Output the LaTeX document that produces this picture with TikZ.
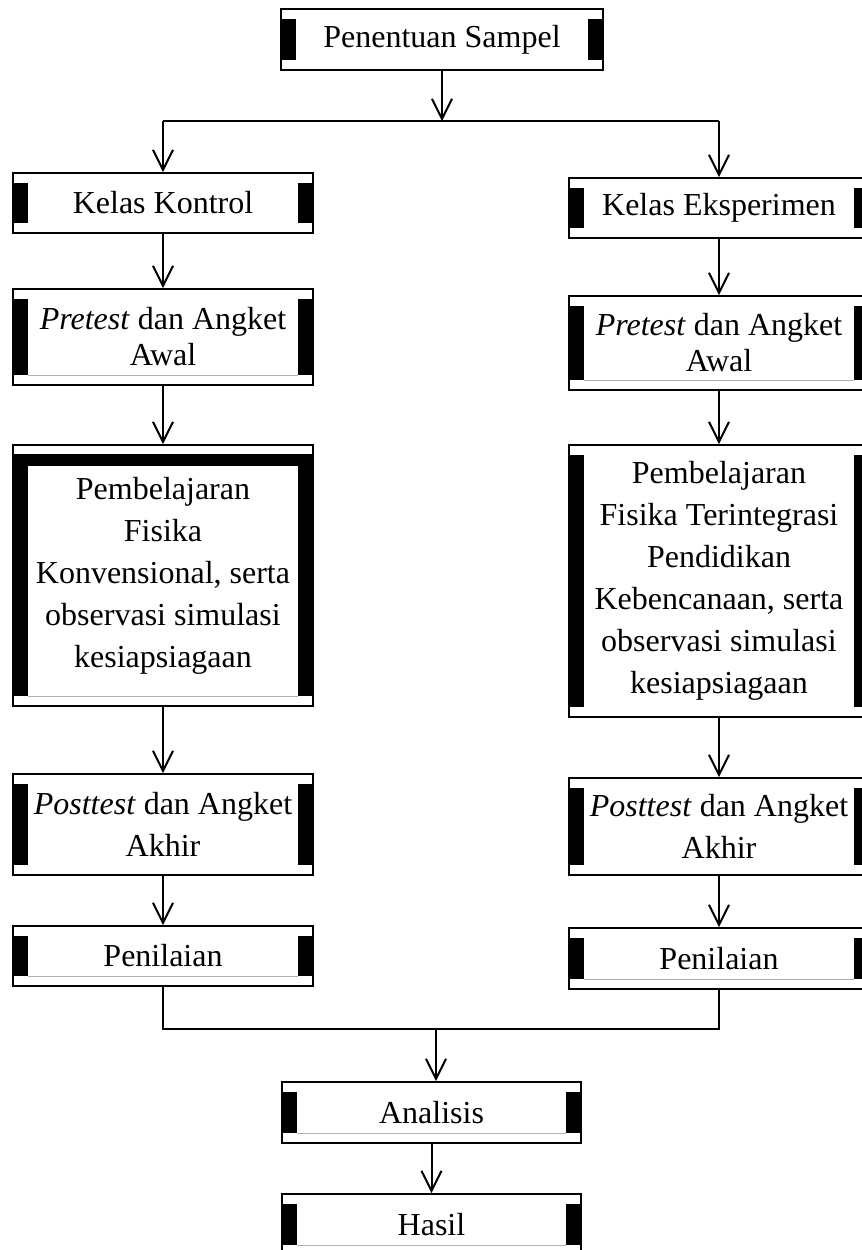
\documentclass[tikz,border=0pt]{standalone}
\usepackage{fontspec}
\setmainfont{Liberation Serif}
\usetikzlibrary{positioning,arrows.meta}

\begin{document}
\begin{tikzpicture}[x=0.5pt, y=-0.5pt,
	flowbox/.style={draw, line width=1pt, minimum width=150pt, inner sep=0pt, align=center, font=\fontsize{16pt}{21pt}\selectfont},
	tightbox/.style={flowbox, font=\fontsize{16pt}{18pt}\selectfont},
	arr/.style={-{Straight Barb[length=10pt,width=10pt]}, line width=1pt}]
	\useasboundingbox (0,0) rectangle (862,1250);

	\node[flowbox, minimum width=161pt, minimum height=30.5pt] (samp) at (442,39.5) {Penentuan Sampel};

	\node[flowbox, minimum height=30pt] (kk) at (163,203) {Kelas Kontrol};
	\node[tightbox, minimum height=48pt, below=27pt of kk] (preL) {\textit{Pretest} dan Angket\\Awal};
	\node[flowbox, minimum height=130.5pt, below=29pt of preL] (pemL) {Pembelajaran\\Fisika\\Konvensional, serta\\observasi simulasi\\kesiapsiagaan};
	\node[flowbox, minimum height=50.5pt, below=33pt of pemL] (postL) {\textit{Posttest} dan Angket\\Akhir};
	\node[flowbox, minimum height=30pt, below=24.5pt of postL] (penL) {Penilaian};

	\node[flowbox, minimum height=30pt] (ke) at (719,208) {Kelas Eksperimen};
	\node[tightbox, minimum height=47pt, below=28pt of ke] (preR) {\textit{Pretest} dan Angket\\Awal};
	\node[flowbox, minimum height=136pt, below=26.5pt of preR] (pemR) {Pembelajaran\\Fisika Terintegrasi\\Pendidikan\\Kebencanaan, serta\\observasi simulasi\\kesiapsiagaan};
	\node[flowbox, minimum height=48.5pt, below=29.5pt of pemR] (postR) {\textit{Posttest} dan Angket\\Akhir};
	\node[flowbox, minimum height=30.5pt, below=25.5pt of postR] (penR) {Penilaian};

	\node[flowbox, minimum width=149.5pt, minimum height=30.5pt] (ana) at (431.5,1112.5) {Analisis};
	\node[flowbox, minimum width=149.5pt, minimum height=30.5pt, below=24.5pt of ana] (has) {Hasil};

	% black side bars
	\foreach \n in {samp,kk,ke,preL,preR,pemL,pemR,postL,postR,penL,penR,ana,has}{
		\fill ([yshift=-5.5pt]\n.north west) rectangle ([xshift=8pt,yshift=5.5pt]\n.south west);
		\fill ([xshift=-8pt,yshift=-5.5pt]\n.north east) rectangle ([yshift=5.5pt]\n.south east);
	}
	\fill ([yshift=-5pt]pemL.north west) rectangle ([yshift=-11pt]pemL.north east);
	\foreach \n in {preL,preR,pemL,penL,penR,ana,has}
		\draw[gray!60, line width=0.5pt] ([xshift=8pt,yshift=5.5pt]\n.south west) -- ([xshift=-8pt,yshift=5.5pt]\n.south east);

	\coordinate (splitL) at (163,121);
	\coordinate (splitR) at (719,121);
	\coordinate (merge) at (436,1029);

	\draw[arr] (samp) -- (samp |- splitL);
	\draw[line width=1pt] (splitL) -- (splitR);
	\draw[arr] (splitL) -- (kk);
	\draw[arr] (splitR) -- (ke);

	\draw[arr] (kk) -- (preL);
	\draw[arr] (preL) -- (pemL);
	\draw[arr] (pemL) -- (postL);
	\draw[arr] (postL) -- (penL);

	\draw[arr] (ke) -- (preR);
	\draw[arr] (preR) -- (pemR);
	\draw[arr] (pemR) -- (postR);
	\draw[arr] (postR) -- (penR);

	\draw[line width=1pt] (penL) |- (merge) -| (penR);
	\draw[arr] (merge) -- (merge |- ana.north);
	\draw[arr] (ana) -- (has);
\end{tikzpicture}
\end{document}
